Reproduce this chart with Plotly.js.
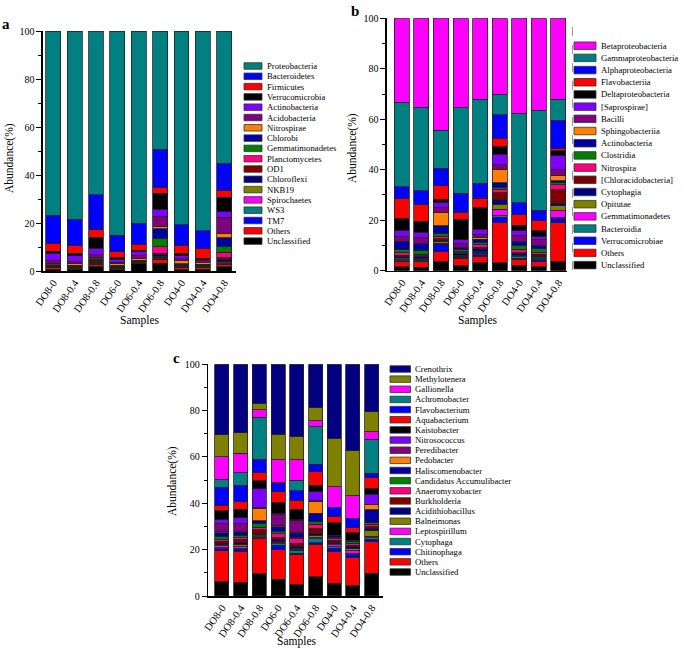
<!DOCTYPE html>
<html><head><meta charset="utf-8">
<script src="https://cdn.plot.ly/plotly-3.0.1.min.js"></script>
<style>body{margin:0;background:#fff}#chart{width:685px;height:649px}</style>
</head><body><div id="chart"></div>
<script>
// ---------------- DATA ----------------
const samples = ['DO8-0','DO8-0.4','DO8-0.8','DO6-0','DO6-0.4','DO6-0.8','DO4-0','DO4-0.4','DO4-0.8'];

// Panel a: phyla (stack order bottom -> top)
const phylaNames = ['Unclassified','Others','TM7','WS3','Spirochaetes','NKB19','Chloroflexi','OD1','Planctomycetes','Gemmatimonadetes','Chlorobi','Nitrospirae','Acidobacteria','Actinobacteria','Verrucomicrobia','Firmicutes','Bacteroidetes','Proteobacteria'];
const a_Unclassified     = [0.8,0.5,2.0,0.6,3.0,3.3,0.6,0.7,1.8];
const a_Others           = [0.6,0.3,0.6,0.3,0.2,1.6,0.7,0.6,1.0];
const a_TM7              = [0.1,0.1,0.2,0.1,0.1,0.2,0.1,0.1,0.3];
const a_WS3              = [0.1,0.1,0.2,0.1,0.1,0.3,0.1,0.1,0.4];
const a_Spirochaetes     = [0.1,0.1,0.2,0.1,0.1,0.3,0.1,0.1,0.3];
const a_NKB19            = [0.1,0.1,0.2,0.1,0.1,0.5,0.2,0.1,0.3];
const a_Chloroflexi      = [0.2,0.2,0.3,0.2,0.2,0.5,0.2,0.3,0.9];
const a_OD1              = [0.2,0.6,0.4,0.4,0.3,0.7,0.3,0.5,0.7];
const a_Planctomycetes   = [0.1,0.2,0.4,0.2,0.1,2.7,0.2,0.2,2.2];
const a_Gemmatimonadetes = [0.1,0.1,0.3,0.1,0.1,3.5,0.1,0.1,2.3];
const a_Chlorobi         = [0.2,0.2,0.4,0.3,0.2,4.0,0.5,0.1,3.6];
const a_Nitrospirae      = [0.6,0.8,0.6,0.8,0.6,1.1,1.1,0.8,1.9];
const a_Acidobacteria    = [1.1,0.6,1.0,0.4,1.2,4.1,0.9,0.6,6.6];
const a_Actinobacteria   = [3.2,2.5,2.7,1.3,1.8,2.9,1.2,0.3,2.4];
const a_Verrucomicrobia  = [0.8,0.7,4.5,0.6,0.6,6.7,0.8,0.7,6.0];
const a_Firmicutes       = [3.2,3.6,3.3,2.5,2.4,2.5,3.7,4.1,3.0];
const a_Bacteroidetes    = [11.8,10.8,14.4,6.9,8.8,15.8,8.4,7.4,11.2];
const a_Proteobacteria   = [76.7,78.5,68.3,85.0,80.1,49.3,80.8,83.2,55.1];
const phylaSeries = [a_Unclassified,a_Others,a_TM7,a_WS3,a_Spirochaetes,a_NKB19,a_Chloroflexi,a_OD1,a_Planctomycetes,a_Gemmatimonadetes,a_Chlorobi,a_Nitrospirae,a_Acidobacteria,a_Actinobacteria,a_Verrucomicrobia,a_Firmicutes,a_Bacteroidetes,a_Proteobacteria];

// Panel b: classes (bottom -> top)
const classNames = ['Unclassified','Others','Verrucomicrobiae','Bacteroidia','Gemmatimonadetes','Opitutae','Cytophagia','[Chloracidobacteria]','Nitrospira','Clostridia','Actinobacteria','Sphingobacteriia','Bacilli','[Saprospirae]','Deltaproteobacteria','Flavobacteriia','Alphaproteobacteria','Gammaproteobacteria','Betaproteobacteria'];
const b_Unclassified        = [1.6,1.4,3.6,2.0,3.2,3.2,1.9,1.6,3.8];
const b_Others              = [2.0,2.2,3.9,2.9,2.6,15.8,2.6,2.2,15.2];
const b_Verrucomicrobiae    = [0.4,0.4,2.7,0.5,0.6,2.1,0.5,0.5,1.6];
const b_Bacteroidia         = [0.4,0.5,0.3,0.3,0.5,0.6,0.6,0.6,0.6];
const b_Gemmatimonadetes    = [0.4,0.3,0.3,0.3,0.4,2.6,0.3,0.3,2.6];
const b_Opitutae            = [0.3,0.2,0.7,0.2,0.3,2.1,0.3,0.3,2.0];
const b_Cytophagia          = [0.6,0.5,0.6,0.5,1.0,2.0,0.5,0.5,0.9];
const b_Chloracidobacteria  = [0.5,0.4,0.6,0.5,0.7,2.5,0.5,0.5,5.3];
const b_Nitrospira          = [0.9,0.7,1.0,0.6,1.0,1.3,1.3,0.8,2.0];
const b_Clostridia          = [1.3,1.4,1.0,0.6,0.7,0.8,1.6,1.4,0.9];
const b_Actinobacteria      = [3.2,2.6,3.1,0.6,1.4,1.9,1.3,1.1,0.8];
const b_Sphingobacteriia    = [0.1,0.1,5.3,0.1,0.8,5.3,0.1,0.1,2.2];
const b_Bacilli             = [1.9,2.5,2.0,1.8,1.3,1.7,2.5,2.3,2.0];
const b_Saprospirae         = [2.2,2.1,1.8,1.3,2.0,4.3,1.8,1.3,5.6];
const b_Deltaproteobacteria = [5.0,4.3,1.4,7.9,8.5,3.2,2.3,2.6,2.1];
const b_Flavobacteriia      = [7.7,6.8,5.4,3.0,3.7,3.1,4.0,3.7,0.9];
const b_Alphaproteobacteria = [4.8,5.3,6.9,7.6,5.9,9.2,4.8,4.2,11.2];
const b_Gammaproteobacteria = [33.4,33.0,15.1,33.9,33.4,8.2,35.5,39.5,8.2];
const b_Betaproteobacteria  = [33.3,35.3,44.3,35.4,32.0,30.1,37.6,36.5,32.1];
const classSeries = [b_Unclassified,b_Others,b_Verrucomicrobiae,b_Bacteroidia,b_Gemmatimonadetes,b_Opitutae,b_Cytophagia,b_Chloracidobacteria,b_Nitrospira,b_Clostridia,b_Actinobacteria,b_Sphingobacteriia,b_Bacilli,b_Saprospirae,b_Deltaproteobacteria,b_Flavobacteriia,b_Alphaproteobacteria,b_Gammaproteobacteria,b_Betaproteobacteria];

// Panel c: genera (bottom -> top)
const genusNames = ['Unclassified','Others','Chitinophaga','Cytophaga','Leptospirillum','Balneimonas','Acidithiobacillus','Burkholderia','Anaeromyxobacter','Candidatus Accumulibacter','Haliscomenobacter','Pedobacter','Peredibacter','Nitrosococcus','Kaistobacter','Aquabacterium','Flavobacterium','Achromobacter','Gallionella','Methylotenera','Crenothrix'];
const c_Unclassified     = [6.2,6.0,9.5,7.3,5.0,8.3,5.6,4.5,9.8];
const c_Others           = [13.4,13.4,15.4,12.6,12.8,14.1,13.6,11.9,13.9];
const c_Chitinophaga     = [0.8,0.8,0.3,2.1,0.7,0.6,1.5,1.3,0.8];
const c_Cytophaga        = [0.5,0.5,0.3,0.6,1.2,1.7,0.5,0.7,0.6];
const c_Leptospirillum   = [0.7,0.8,0.5,0.5,0.4,0.4,0.9,1.4,0.7];
const c_Balneimonas      = [0.5,0.6,0.6,0.5,0.6,1.1,0.4,0.6,2.6];
const c_Acidithiobacillus= [0.7,1.2,0.5,0.8,0.7,0.8,0.8,0.8,0.8];
const c_Burkholderia     = [0.9,1.2,1.4,0.8,1.3,2.2,0.7,0.8,0.7];
const c_Anaeromyxobacter = [0.8,0.7,1.1,1.7,2.1,1.7,0.8,0.8,1.0];
const c_Accumulibacter   = [1.1,1.0,1.5,1.0,0.6,1.2,0.6,0.6,0.9];
const c_Haliscomenobacter= [1.7,1.3,1.4,2.0,1.6,3.6,0.5,0.3,5.5];
const c_Pedobacter       = [0.5,0.3,5.3,0.4,0.6,5.0,0.1,0.1,2.0];
const c_Peredibacter     = [3.6,3.6,0.3,5.0,5.0,0.4,0.2,0.1,0.4];
const c_Nitrosococcus    = [1.4,2.3,8.1,0.4,0.4,3.9,0.1,0.1,4.3];
const c_Kaistobacter     = [3.9,3.7,3.6,4.7,4.4,2.9,5.3,3.3,2.5];
const c_Aquabacterium    = [2.4,3.3,3.4,4.6,4.0,5.7,2.9,2.2,4.7];
const c_Flavobacterium   = [7.8,7.0,5.9,3.6,4.0,3.2,3.8,4.0,1.7];
const c_Achromobacter    = [3.5,5.5,18.0,0.3,4.5,16.3,0.1,0.1,14.7];
const c_Gallionella      = [9.7,8.4,3.2,9.8,8.9,2.6,8.7,9.6,3.3];
const c_Methylotenera    = [9.4,8.9,2.9,11.1,9.9,5.7,21.0,19.4,8.6];
const c_Crenothrix       = [30.5,29.5,16.8,30.2,31.3,18.6,31.9,37.4,20.5];
const genusSeries = [c_Unclassified,c_Others,c_Chitinophaga,c_Cytophaga,c_Leptospirillum,c_Balneimonas,c_Acidithiobacillus,c_Burkholderia,c_Anaeromyxobacter,c_Accumulibacter,c_Haliscomenobacter,c_Pedobacter,c_Peredibacter,c_Nitrosococcus,c_Kaistobacter,c_Aquabacterium,c_Flavobacterium,c_Achromobacter,c_Gallionella,c_Methylotenera,c_Crenothrix];

const yTicks = [0,20,40,60,80,100];

// ---------------- STYLE ----------------
const palette = ['#000000','#FF0000','#0000FF','#008080','#FF00FF','#808000','#000080','#800000','#FF0080','#008000','#0000A0','#FF8000','#800080','#8000FF'];
const FONT = 'Liberation Serif, Times New Roman, serif';
const W = 685, H = 649;
const px = x => x / W;
const py = y => 1 - y / H;

const panels = [
  {letter:'a', xa:'x', ya:'y', names:phylaNames, series:phylaSeries, barW:0.70,
   xdom:[43,236], xrange:[-0.48,8.55], ybot:271, ytop:31,
   letterPos:[6,24], ytitle:[10,158], xtitle:[139,320],
   leg:{sx0:244, sx1:262, tx:265, y0:66, dy:10.3, h:6.5, size:8.7}},
  {letter:'b', xa:'x2', ya:'y2', names:classNames, series:classSeries, barW:0.77,
   xdom:[387,567], xrange:[-0.76,8.44], ybot:270.7, ytop:18.3,
   letterPos:[355,11], ytitle:[352,148], xtitle:[477,320],
   leg:{sx0:574, sx1:596, tx:599, y0:45.7, dy:12.19, h:7.5, size:8.7}},
  {letter:'c', xa:'x3', ya:'y3', names:genusNames, series:genusSeries, barW:0.75,
   xdom:[208.3,382.7], xrange:[-0.73,8.59], ybot:596, ytop:364.3,
   letterPos:[176,358], ytitle:[172,481], xtitle:[296,641],
   leg:{sx0:390, sx1:410.5, tx:413, y0:369, dy:10.15, h:6.5, size:8.7}}
];

const traces = [];
const layout = {
  width: W, height: H, margin:{l:0,r:0,t:0,b:0},
  paper_bgcolor:'#fff', plot_bgcolor:'rgba(0,0,0,0)',
  barmode:'stack', showlegend:false,
  font:{family:FONT, color:'#000'},
  shapes:[], annotations:[]
};

panels.forEach((p, pi) => {
  const sfx = pi === 0 ? '' : String(pi + 1);
  p.names.forEach((nm, i) => {
    traces.push({
      type:'bar', x:samples, y:p.series[i], name:nm,
      xaxis:p.xa, yaxis:p.ya, width:p.barW,
      marker:{color:palette[i % palette.length], line:{color:'#222', width:0.8}},
      hovertemplate:nm+': %{y}%<extra></extra>'
    });
  });
  layout['xaxis'+sfx] = {
    domain:[px(p.xdom[0]), px(p.xdom[1])], range:p.xrange, type:'category',
    anchor:p.ya, showline:true, linecolor:'#000', linewidth:1.6,
    ticks:'', tickangle:-55, showgrid:false, zeroline:false,
    tickfont:{family:FONT, size:10.5, color:'#000'}, fixedrange:true
  };
  layout['yaxis'+sfx] = {
    domain:[py(p.ybot), py(p.ytop)], range:[0,100], anchor:p.xa,
    tickmode:'array', tickvals:yTicks,
    ticks:'outside', ticklen:5, tickwidth:1, tickcolor:'#000',
    minor:{tickmode:'array', tickvals:[10,30,50,70,90], ticks:'outside', ticklen:3, tickwidth:1, tickcolor:'#000'},
    showline:true, linecolor:'#000', linewidth:1.6, showgrid:false, zeroline:false,
    tickfont:{family:FONT, size:10, color:'#000'}, fixedrange:true
  };
  // panel letter
  layout.annotations.push({xref:'paper', yref:'paper', x:px(p.letterPos[0]), y:py(p.letterPos[1]),
    text:'<b>'+p.letter+'</b>', showarrow:false, xanchor:'center', yanchor:'middle',
    font:{family:FONT, size:15, color:'#000'}});
  // axis titles
  layout.annotations.push({xref:'paper', yref:'paper', x:px(p.ytitle[0]), y:py(p.ytitle[1]),
    text:'Abundance(%)', textangle:-90, showarrow:false, xanchor:'center', yanchor:'middle',
    font:{family:FONT, size:11.5, color:'#000'}});
  layout.annotations.push({xref:'paper', yref:'paper', x:px(p.xtitle[0]), y:py(p.xtitle[1]),
    text:'Samples', showarrow:false, xanchor:'center', yanchor:'middle',
    font:{family:FONT, size:11.5, color:'#000'}});
  // legend (top -> bottom = reverse of stack order)
  const n = p.names.length;
  for (let k = 0; k < n; k++) {
    const i = n - 1 - k;
    const cy = p.leg.y0 + k * p.leg.dy;
    layout.shapes.push({type:'rect', xref:'paper', yref:'paper',
      x0:px(p.leg.sx0), x1:px(p.leg.sx1), y0:py(cy + p.leg.h/2), y1:py(cy - p.leg.h/2),
      fillcolor:palette[i % palette.length], line:{color:'#333', width:0.8}});
    layout.annotations.push({xref:'paper', yref:'paper', x:px(p.leg.tx), y:py(cy),
      text:p.names[i], showarrow:false, xanchor:'left', yanchor:'middle',
      font:{family:FONT, size:p.leg.size, color:'#000'}});
  }
});

// dashed separator next to panel b legend
layout.shapes.push({type:'line', xref:'paper', yref:'paper', x0:px(572.5), x1:px(572.5), y0:py(270), y1:py(18),
  line:{color:'#9a9a9a', width:1, dash:'dash'}});

Plotly.newPlot('chart', traces, layout, {displayModeBar:false, staticPlot:true});
</script></body></html>
